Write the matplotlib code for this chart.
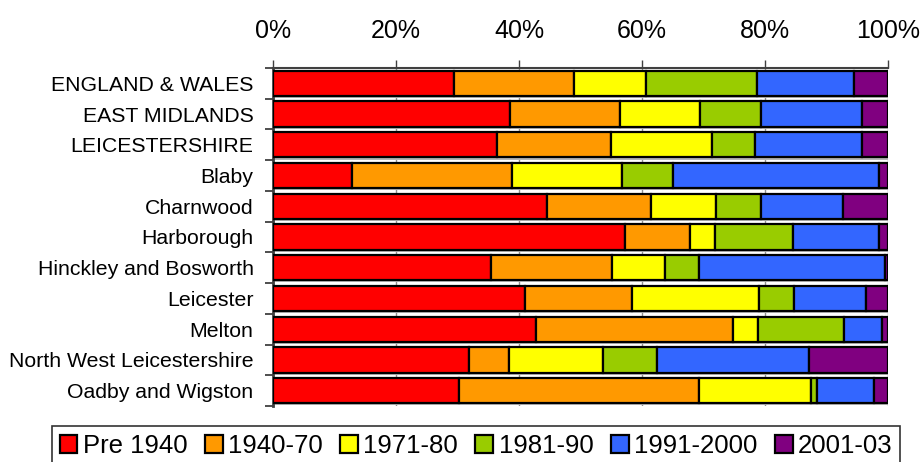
import matplotlib
matplotlib.use("Agg")
import matplotlib.pyplot as plt
import numpy as np

plt.rcParams['font.family'] = ['Liberation Sans', 'DejaVu Sans']

areas = ['ENGLAND & WALES', 'EAST MIDLANDS', 'LEICESTERSHIRE', 'Blaby', 'Charnwood',
         'Harborough', 'Hinckley and Bosworth', 'Leicester', 'Melton',
         'North West Leicestershire', 'Oadby and Wigston']

periods = ['Pre 1940', '1940-70', '1971-80', '1981-90', '1991-2000', '2001-03']

# share of dwellings by build period (%)
pre_1940 = [29.5, 38.5, 36.4, 12.8, 44.6, 57.2, 35.4, 40.9, 42.8, 31.9, 30.2]
y1940_70 = [19.4, 18.0, 18.6, 26.1, 16.8, 10.6, 19.8, 17.4, 32.0, 6.5, 39.0]
y1971_80 = [11.8, 12.9, 16.4, 17.8, 10.7, 4.1, 8.5, 20.8, 4.0, 15.3, 18.2]
y1981_90 = [18.0, 9.9, 7.0, 8.3, 7.2, 12.6, 5.5, 5.6, 14.1, 8.7, 1.1]
y1991_2000 = [15.7, 16.5, 17.4, 33.5, 13.4, 14.0, 30.3, 11.7, 6.1, 24.8, 9.3]
y2001_03 = [5.6, 4.2, 4.2, 1.5, 7.3, 1.5, 0.5, 3.6, 1.0, 12.8, 2.2]

series = [pre_1940, y1940_70, y1971_80, y1981_90, y1991_2000, y2001_03]
colors = ['#ff0000', '#ff9900', '#ffff00', '#99cc00', '#3366ff', '#800080']

fig = plt.figure(figsize=(9.23, 4.62), dpi=100)
ax = fig.add_axes([273 / 923, 1 - 406 / 462, 615 / 923, 338 / 462])

y = np.arange(len(areas))
h = 0.82

# drop shadow behind each bar
ax.barh(y + 0.07, 100.6, height=h, left=0, color='#b8b8b8', zorder=1, linewidth=0)

left = np.zeros(len(areas))
for vals, c, lab in zip(series, colors, periods):
    vals = np.array(vals)
    ax.barh(y, vals, height=h, left=left, color=c, edgecolor='black',
            linewidth=1.6, label=lab, zorder=3)
    left += vals

ax.set_xlim(0, 100)
ax.set_ylim(len(areas) - 0.5, -0.5)
ax.xaxis.tick_top()
ax.set_xticks(np.arange(0, 101, 20))
ax.set_xticklabels([f'{v}%' for v in range(0, 101, 20)], fontsize=18)
ax.tick_params(axis='x', direction='out', length=6, width=1, color='#404040', pad=12)

ax.set_yticks(y)
ax.set_yticklabels(areas, fontsize=15.3)
ax.set_yticks(np.arange(-0.5, len(areas)), minor=True)
ax.tick_params(axis='y', which='major', length=0, pad=14)
ax.tick_params(axis='y', which='minor', length=6, width=1.2, color='#303030')

ax.grid(axis='x', color='#909090', linewidth=1, zorder=0)
ax.set_axisbelow(True)
for s in ['right', 'bottom']:
    ax.spines[s].set_visible(False)
ax.spines['left'].set_linewidth(2)
ax.spines['left'].set_color('#404040')
ax.spines['top'].set_linewidth(1.5)
ax.spines['top'].set_color('#404040')

leg = fig.legend(loc='upper center', bbox_to_anchor=(476 / 923, 1 - 426 / 462), ncol=6,
                 fontsize=18.5, frameon=True, fancybox=False, edgecolor='black',
                 handlelength=0.7, handleheight=0.7, handletextpad=0.2,
                 columnspacing=0.68, borderpad=0.3, borderaxespad=0)
leg.get_frame().set_linewidth(1.2)

fig.savefig('out.png', dpi=100)
